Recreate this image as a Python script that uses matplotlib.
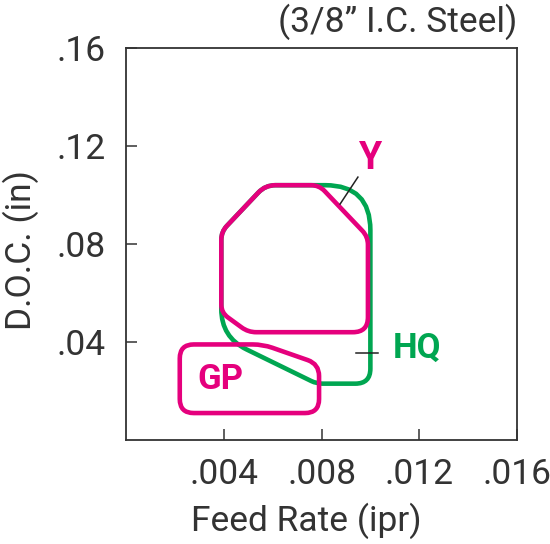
import numpy as np
import matplotlib
matplotlib.use('Agg')
import matplotlib.pyplot as plt
from matplotlib.path import Path
from matplotlib.patches import PathPatch

plt.rcParams['font.family'] = ['Roboto', 'DejaVu Sans']

# regions (feed rate in ipr, depth of cut in inches)
y_feed = [0.0057, 0.0079, 0.0099, 0.0099, 0.0050, 0.0039, 0.0039]
y_doc = [0.104, 0.104, 0.083, 0.044, 0.044, 0.052, 0.085]

hq_feed = [0.0057, 0.0100, 0.0100, 0.0078, 0.0039, 0.0039]
hq_doc = [0.104, 0.104, 0.023, 0.023, 0.042, 0.085]

gp_feed = [0.0022, 0.0056, 0.0079, 0.0079, 0.0022]
gp_doc = [0.039, 0.039, 0.031, 0.011, 0.011]

xticks = [0.004, 0.008, 0.012, 0.016]
xlabels = ['.004', '.008', '.012', '.016']
yticks = [0.04, 0.08, 0.12, 0.16]
ylabels = ['.04', '.08', '.12', '.16']

MAGENTA = '#e5007d'
GREEN = '#00a651'
INK = '#333333'
WEIGHT = 'normal'
FS = 25.5

fig = plt.figure(figsize=(5.5, 5.44), dpi=100)
ax = fig.add_axes([126/550, 1-440/544, 391/550, 392/544])
ax.set_xlim(0, 0.016)
ax.set_ylim(0, 0.16)


def rounded(xs, ys, radii):
    # round polygon corners in display space, then map back to data
    pts = ax.transData.transform(np.column_stack([xs, ys]))
    n = len(pts)
    verts, codes = [], []
    for i in range(n):
        v = pts[i]
        a = pts[i - 1] - v
        b = pts[(i + 1) % n] - v
        r = min(radii[i], np.linalg.norm(a) / 2, np.linalg.norm(b) / 2)
        p_in = v + a / np.linalg.norm(a) * r
        p_out = v + b / np.linalg.norm(b) * r
        verts.append(p_in)
        codes.append(Path.MOVETO if i == 0 else Path.LINETO)
        verts += [v, p_out]
        codes += [Path.CURVE3, Path.CURVE3]
    verts.append(verts[0]); codes.append(Path.LINETO)
    verts.append(verts[0]); codes.append(Path.CLOSEPOLY)
    data = ax.transData.inverted().transform(np.array(verts))
    return Path(data, codes)


lw = 3.3
ax.add_patch(PathPatch(rounded(hq_feed, hq_doc, [10, 45, 15, 6, 28, 8]),
                       fill=False, ec=GREEN, lw=lw, joinstyle='round', zorder=2))
ax.add_patch(PathPatch(rounded(y_feed, y_doc, [10, 8, 8, 15, 8, 8, 8]),
                       fill=False, ec=MAGENTA, lw=lw, joinstyle='round', zorder=3))
ax.add_patch(PathPatch(rounded(gp_feed, gp_doc, [14, 10, 12, 14, 14]),
                       fill=False, ec=MAGENTA, lw=lw, joinstyle='round', zorder=3))

# leader lines and labels
ax.plot([0.00949, 0.00876], [0.1073, 0.0963], color='#222222', lw=1.1, zorder=4)
ax.plot([0.00941, 0.01031], [0.0355, 0.0355], color='#222222', lw=1.1, zorder=4)
ax.text(0.00998, 0.1151, 'Y', color=MAGENTA, fontsize=27, fontweight='bold',
        ha='center', va='center')
ax.text(0.01191, 0.0373, 'HQ', color=GREEN, fontsize=25, fontweight='bold',
        ha='center', va='center')
ax.text(0.00387, 0.0245, 'GP', color=MAGENTA, fontsize=25, fontweight='bold',
        ha='center', va='center')

ax.set_xticks(xticks)
ax.set_xticklabels(xlabels)
ax.set_yticks(yticks)
ax.set_yticklabels(ylabels)
ax.tick_params(direction='in', length=8, width=1.1, color=INK, labelcolor=INK,
               labelsize=FS)
ax.tick_params(axis='x', pad=13)
ax.tick_params(axis='y', pad=14.5)
for lab in ax.get_xticklabels() + ax.get_yticklabels():
    lab.set_fontweight(WEIGHT)
for sp in ax.spines.values():
    sp.set_color(INK)
    sp.set_linewidth(1.3)

ax.set_xlabel('Feed Rate (ipr)', fontsize=FS, fontweight=WEIGHT, color=INK)
ax.xaxis.set_label_coords(0.46, -0.16)
ax.set_ylabel('D.O.C. (in)', fontsize=FS, fontweight=WEIGHT, color=INK)
ax.yaxis.label.set_va('center')
ax.yaxis.set_label_coords(-0.27, 0.485)
ax.text(1.0, 1.041, '(3/8\u201d I.C. Steel)', transform=ax.transAxes, ha='right',
        va='baseline', fontsize=FS, fontweight=WEIGHT, color=INK)

fig.savefig('out.png', dpi=100)
